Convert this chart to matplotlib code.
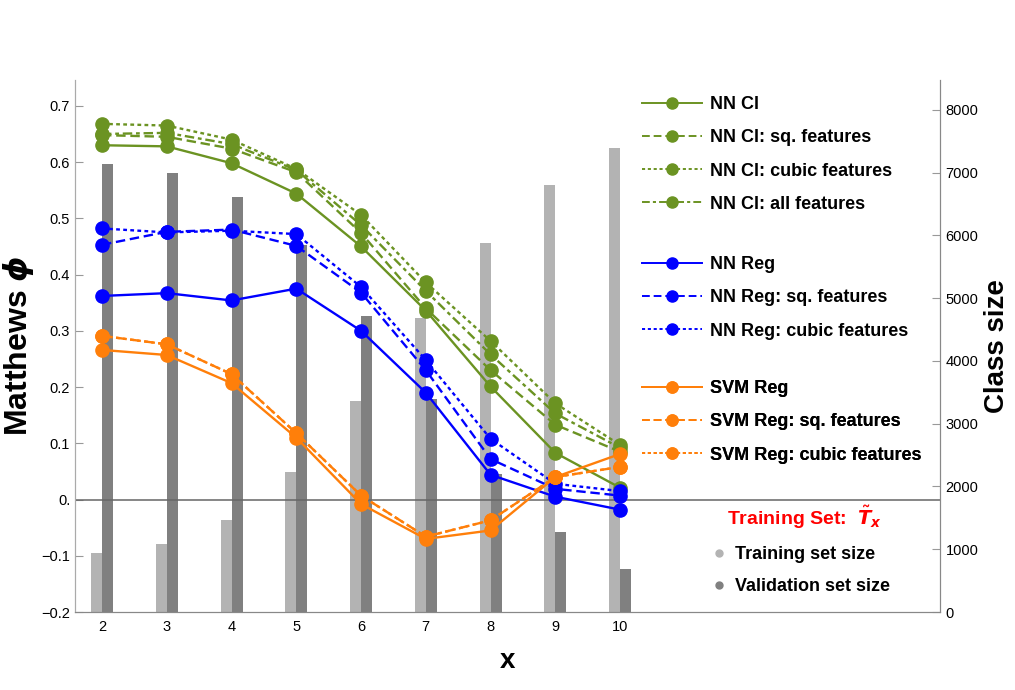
import matplotlib
matplotlib.use("Agg")
import matplotlib.pyplot as plt
from matplotlib.lines import Line2D
import numpy as np

plt.rcParams['font.family'] = ['Liberation Sans', 'DejaVu Sans']

x = [2, 3, 4, 5, 6, 7, 8, 9, 10]

# Matthews phi (left axis)
nn_cl = [0.630, 0.628, 0.598, 0.544, 0.450, 0.336, 0.201, 0.083, 0.021]
nn_cl_sq = [0.648, 0.645, 0.624, 0.582, 0.474, 0.340, 0.230, 0.133, 0.085]
nn_cl_cubic = [0.668, 0.665, 0.640, 0.588, 0.506, 0.386, 0.282, 0.171, 0.097]
nn_cl_all = [0.650, 0.652, 0.632, 0.586, 0.488, 0.371, 0.258, 0.153, 0.092]

nn_reg = [0.362, 0.367, 0.354, 0.375, 0.300, 0.190, 0.044, 0.005, -0.018]
nn_reg_sq = [0.453, 0.476, 0.480, 0.451, 0.368, 0.230, 0.072, 0.019, 0.007]
nn_reg_cubic = [0.482, 0.475, 0.478, 0.472, 0.378, 0.248, 0.108, 0.028, 0.015]

svm_reg = [0.266, 0.257, 0.207, 0.110, -0.008, -0.070, -0.055, 0.040, 0.081]
svm_reg_sq = [0.291, 0.276, 0.223, 0.118, 0.007, -0.066, -0.037, 0.040, 0.058]
svm_reg_cubic = [0.291, 0.276, 0.223, 0.118, 0.007, -0.066, -0.037, 0.040, 0.058]

# class sizes (right axis)
train_size = [935, 1079, 1466, 2236, 3363, 4680, 5880, 6805, 7394]
valid_size = [7139, 7000, 6619, 5849, 4717, 3394, 2199, 1270, 685]

green = '#6b9322'
blue = '#0000ff'
orange = '#ff7f0a'
light_grey = '#b3b3b3'
dark_grey = '#808080'

dotted = (0, (1.6, 1.4))
dashdot = (0, (4, 1.6, 1.6, 1.6))
dashed = (0, (4, 2))

series = [
    (nn_cl, green, '-', 'NN Cl'),
    (nn_cl_sq, green, dashed, 'NN Cl: sq. features'),
    (nn_cl_cubic, green, dotted, 'NN Cl: cubic features'),
    (nn_cl_all, green, dashdot, 'NN Cl: all features'),
    (nn_reg, blue, '-', 'NN Reg'),
    (nn_reg_sq, blue, dashed, 'NN Reg: sq. features'),
    (nn_reg_cubic, blue, dotted, 'NN Reg: cubic features'),
    (svm_reg, orange, '-', 'SVM Reg'),
    (svm_reg_sq, orange, dashed, 'SVM Reg: sq. features'),
    (svm_reg_cubic, orange, dotted, 'SVM Reg: cubic features'),
]

fig = plt.figure(figsize=(10.15, 6.9), dpi=100)
ax = fig.add_axes([75 / 1015, 1 - 612 / 690, 865 / 1015, 532 / 690])
ax2 = ax.twinx()
ax.set_zorder(ax2.get_zorder() + 1)
ax.patch.set_visible(False)

xs = np.array(x)
ax2.bar(xs - 0.085, train_size, width=0.17, color=light_grey, zorder=1)
ax2.bar(xs + 0.085, valid_size, width=0.17, color=dark_grey, zorder=1)
ax2.set_ylim(0, 8478)
ax2.set_yticks([0, 1000, 2000, 3000, 4000, 5000, 6000, 7000, 8000])
ax2.tick_params(axis='y', direction='in', length=6, color='#999999', labelsize=10.5, pad=4)
ax2.set_ylabel('Class size', fontsize=20, fontweight='bold', labelpad=4)

ax.axhline(0, color='#666666', lw=1.1, zorder=2)
handles = []
for vals, col, ls, lab in series:
    ax.plot(x, vals, color=col, ls=ls, lw=1.7, marker='o', ms=9.5, zorder=3)
    handles.append(Line2D([], [], color=col, ls=ls, lw=1.4, marker='o', ms=8, label=lab))

ax.set_xlim(1.583, 14.94)
ax.set_ylim(-0.2, 0.746)
yt = [-0.2, -0.1, 0.0, 0.1, 0.2, 0.3, 0.4, 0.5, 0.6, 0.7]
ax.set_yticks(yt, ['\u22120.2', '\u22120.1', '0.', '0.1', '0.2', '0.3', '0.4', '0.5', '0.6', '0.7'])
ax.set_xticks(x)
ax.tick_params(axis='y', direction='in', length=6, color='#999999', labelsize=10.5)
ax.tick_params(axis='x', direction='in', length=0, labelsize=10.5, pad=6)
ax.set_ylabel('Matthews $\\mathbfit{\\phi}$', fontsize=23, fontweight='bold', labelpad=4)
ax.set_xlabel('x', fontsize=20, fontweight='bold', labelpad=10)

for a in (ax, ax2):
    a.spines['top'].set_visible(False)
    a.spines['left'].set_color('#aaaaaa')
    a.spines['right'].set_color('#888888')
    a.spines['bottom'].set_color('#888888')

# three legend blocks, one per model family
groups = [(handles[:4], 96), (handles[4:7], 256), (handles[7:], 380)]
for hs, top in groups:
    leg = ax.legend(handles=hs, loc='upper left', bbox_to_anchor=(642 / 1015, 1 - top / 690),
                    bbox_transform=fig.transFigure, frameon=False, borderpad=0, borderaxespad=0,
                    handlelength=3.3, handletextpad=0.45, labelspacing=0.9,
                    prop={'weight': 'bold', 'size': 13})
    ax.add_artist(leg)

fig.text(727 / 1015, 1 - 517 / 690, 'Training Set:  $\\tilde{\\mathbfit{T}}_{\\mathbfit{x}}$',
         color='red', fontsize=14, fontweight='bold', ha='left', va='center')

bar_handles = [
    Line2D([], [], ls='none', marker='o', ms=5, color=light_grey, label='Training set size'),
    Line2D([], [], ls='none', marker='o', ms=5, color=dark_grey, label='Validation set size'),
]
leg2 = ax2.legend(handles=bar_handles, loc='upper left', bbox_to_anchor=(710 / 1015, 1 - 546 / 690),
                  bbox_transform=fig.transFigure, frameon=False, borderpad=0, borderaxespad=0,
                  handlelength=1.0, handletextpad=0.4, labelspacing=0.85,
                  prop={'weight': 'bold', 'size': 13})

fig.savefig('out.png', dpi=100)
